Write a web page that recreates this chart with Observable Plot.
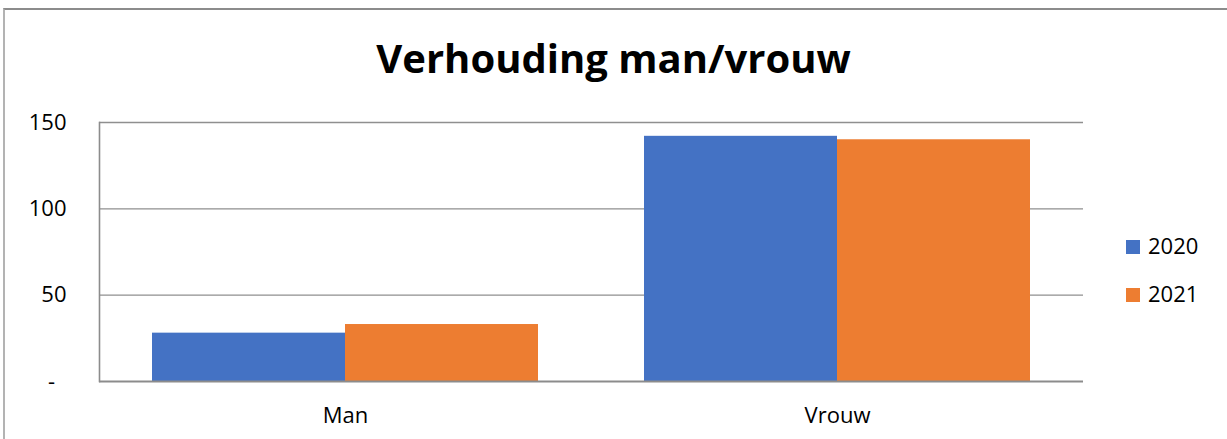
<!DOCTYPE html>
<html>
<head>
<meta charset="utf-8">
<script src="https://cdn.jsdelivr.net/npm/d3@7"></script>
<script src="https://cdn.jsdelivr.net/npm/@observablehq/plot@0.6"></script>
<style>
  body { margin: 0; background: #fff; }
  #wrap { position: relative; width: 1227px; height: 439px; overflow: hidden; font-family: "Open Sans", sans-serif; color: #000; }
  #border { position: absolute; left: 3px; top: 8px; right: -5px; bottom: -5px; border-top: 2px solid #8c8c8c; border-left: 2px solid #b3b3b3; }
  #title { position: absolute; left: 0; right: 0; top: 38px; line-height: 40px; text-align: center; font-weight: bold; font-size: 40px; }
  #chart { position: absolute; left: 0; top: 0; }
  .leg { position: absolute; left: 1126px; font-size: 22px; line-height: 22px; white-space: nowrap; }
  .leg span.sw { display: inline-block; width: 14px; height: 14px; vertical-align: baseline; margin-right: 8px; }
</style>
</head>
<body>
<div id="wrap">
  <div id="border"></div>
  <div id="title">Verhouding man/vrouw</div>
  <div id="chart"></div>
  <div id="legend"></div>
</div>
<script>
const categories = ["Man", "Vrouw"];
const years = ["2020", "2021"];
const values2020 = [28, 142];
const values2021 = [33, 140];
const yTicks = [0, 50, 100, 150];
const colors = ["#4472C4", "#ED7D31"];

const data = [];
categories.forEach((c, i) => {
  data.push({category: c, year: years[0], value: values2020[i]});
  data.push({category: c, year: years[1], value: values2021[i]});
});

const chart = Plot.plot({
  width: 1227,
  height: 439,
  marginTop: 122,
  marginBottom: 58,
  marginLeft: 99,
  marginRight: 144,
  style: {fontFamily: "Open Sans", fontSize: "22px", background: "transparent", color: "#000"},
  fx: {domain: categories, padding: 0},
  x: {domain: years, paddingInner: 0, paddingOuter: 0.2746, axis: null},
  y: {domain: [0, 150]},
  color: {domain: years, range: colors},
  marks: [
    Plot.ruleY([50, 100, 150], {stroke: "#8f8f8f", strokeWidth: 1.4}),
    Plot.barY(data, {fx: "category", x: "year", y: "value", fill: "year"}),
    Plot.ruleY([0], {stroke: "#8c8c8c", strokeWidth: 2.2}),
    Plot.frame({anchor: "left", facetAnchor: "left", stroke: "#8c8c8c", strokeWidth: 1.6}),
    Plot.axisY(yTicks, {tickSize: 0, tickPadding: 33, fontSize: 22, label: null,
      tickFormat: d => d === 0 ? "-\u00a0\u00a0" : String(d)}),
    Plot.axisFx({anchor: "bottom", tickSize: 0, tickPadding: 26, fontSize: 22, label: null})
  ]
});
document.getElementById("chart").appendChild(chart);

const legend = document.getElementById("legend");
const legTops = [233.5, 282];
years.forEach((y, i) => {
  const d = document.createElement("div");
  d.className = "leg";
  d.style.top = legTops[i] + "px";
  d.innerHTML = `<span class="sw" style="background:${colors[i]}"></span>${y}`;
  legend.appendChild(d);
});
</script>
</body>
</html>
